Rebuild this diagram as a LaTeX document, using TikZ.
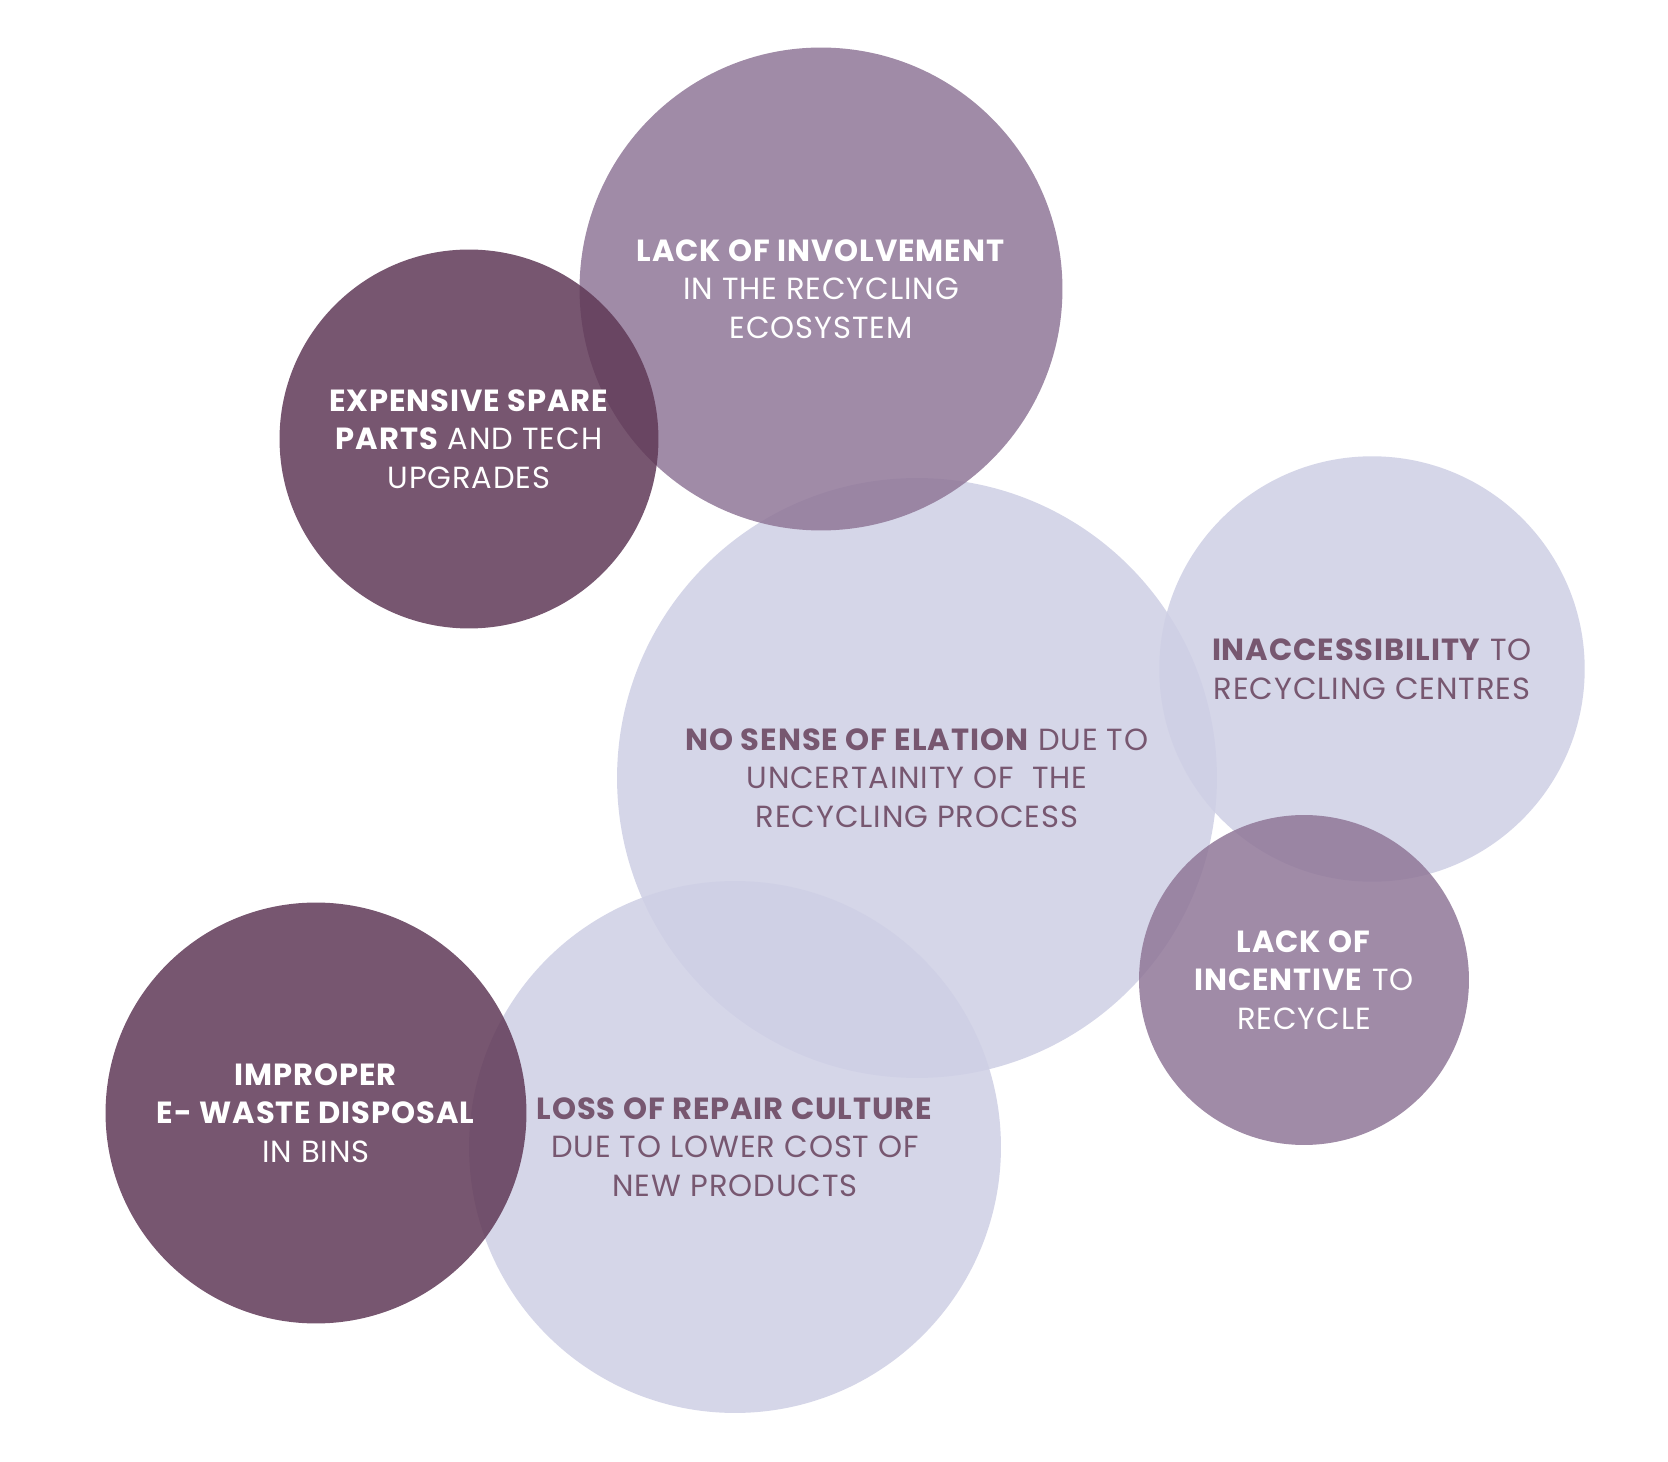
\documentclass[tikz,border=0pt]{standalone}
\usepackage{fontspec}
\setmainfont{Poppins}[LetterSpace=3]
\definecolor{lightbg}{RGB}{206,207,229}
\definecolor{midbg}{RGB}{144,119,152}
\definecolor{darkbg}{RGB}{96,57,87}
\definecolor{plumtext}{RGB}{119,87,112}

\begin{document}
\begin{tikzpicture}[x=0.02cm,y=-0.02cm,
  bubble/.style={circle,inner sep=0pt,fill opacity=.85,text opacity=1,align=center,
    font=\fontsize{17.4}{22}\selectfont},
  lightbub/.style={bubble,fill=lightbg,text=plumtext},
  midbub/.style={bubble,fill=midbg,text=white},
  darkbub/.style={bubble,fill=darkbg,text=white}]
  % Canvas
  \useasboundingbox[fill=white] (0,0) rectangle (1668,1462);

  % Light circles first
  \node[lightbub,minimum size=12.0cm] (elation) at (917,778)
    {\textbf{NO SENSE OF ELATION} DUE TO\\UNCERTAINITY OF\ \ THE\\RECYCLING PROCESS};
  \node[lightbub,minimum size=8.51cm] (access) at (1372,669)
    {\textbf{INACCESSIBILITY} TO\\RECYCLING CENTRES};
  \node[lightbub,minimum size=10.64cm] (repair) at (735,1147)
    {\textbf{LOSS OF REPAIR CULTURE}\\DUE TO LOWER COST OF\\NEW PRODUCTS};

  % Medium circles
  \node[midbub,minimum size=9.66cm] (involve) at (821,289)
    {\textbf{LACK OF INVOLVEMENT}\\IN THE RECYCLING\\ECOSYSTEM};
  \node[midbub,minimum size=6.6cm] (incentive) at (1304,980)
    {\textbf{LACK OF}\\\textbf{INCENTIVE} TO\\RECYCLE};

  % Dark circles on top
  \node[darkbub,minimum size=7.58cm] (spare) at (469,439)
    {\textbf{EXPENSIVE SPARE}\\\textbf{PARTS} AND TECH\\UPGRADES};
  \node[darkbub,minimum size=8.42cm] (disposal) at (316,1113)
    {\textbf{IMPROPER}\\\textbf{E- WASTE DISPOSAL}\\IN BINS};
\end{tikzpicture}
\end{document}
